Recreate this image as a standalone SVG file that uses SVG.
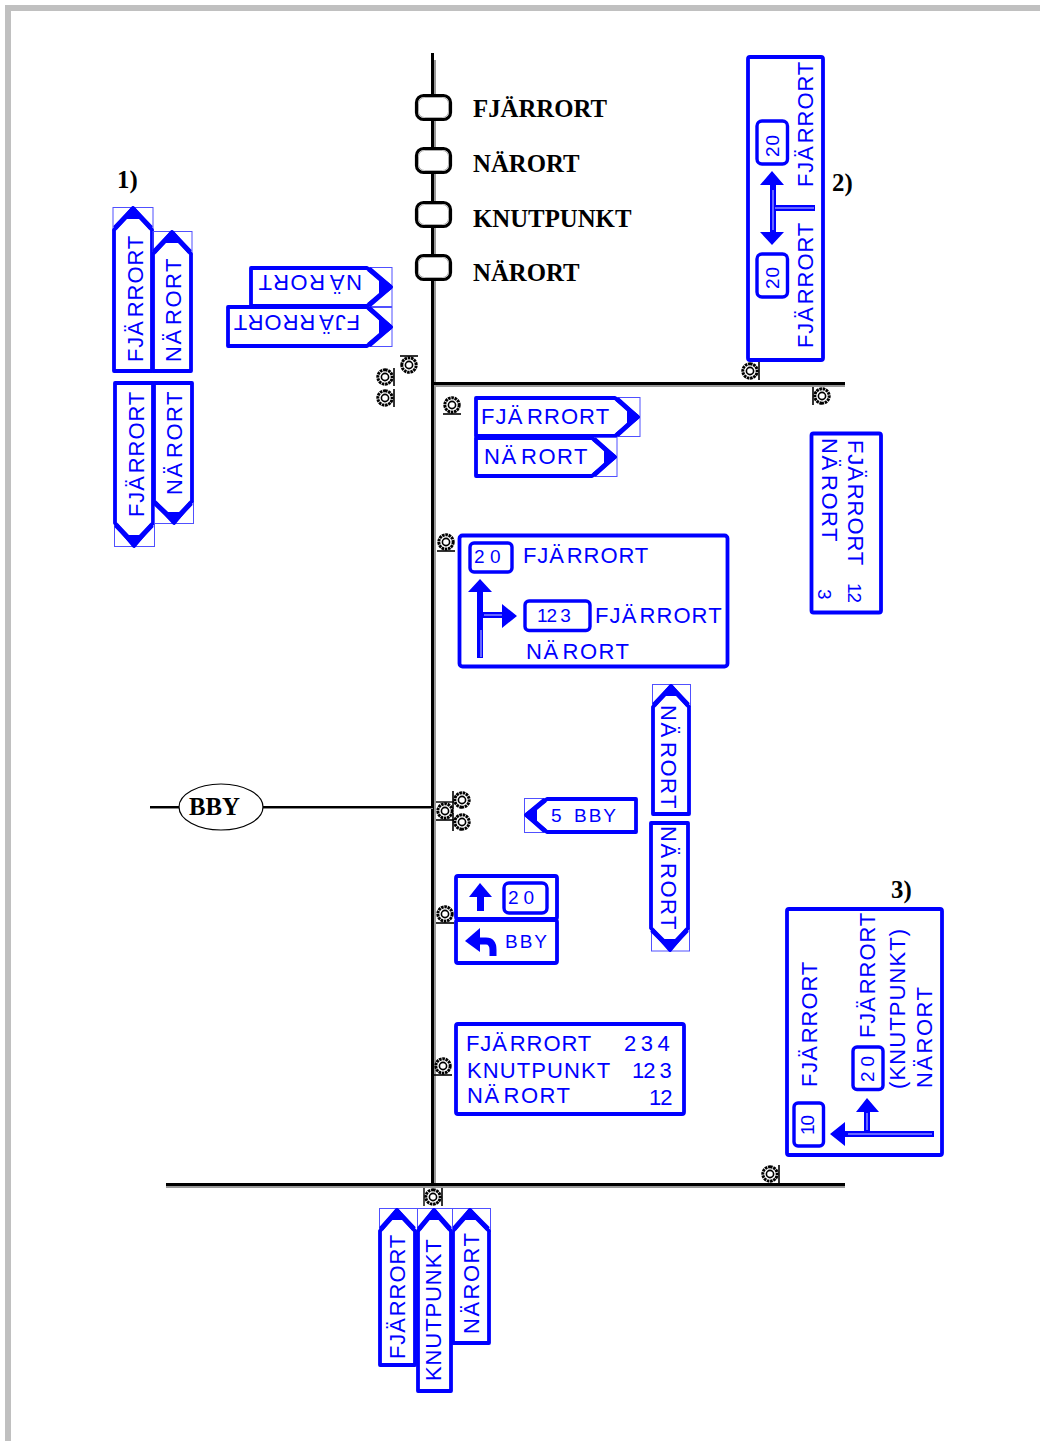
<svg xmlns="http://www.w3.org/2000/svg" width="1040" height="1441" viewBox="0 0 1040 1441">
<style>
.s{fill:#fff;stroke:#00f;stroke-width:3.8;stroke-linejoin:round}
.b{fill:#fff;stroke:#00f;stroke-width:3.4;stroke-linejoin:round}
.h{fill:none;stroke:#00f;stroke-width:5;stroke-linejoin:round}
.w{fill:#00f;stroke:none}
.a{fill:none;stroke:#00f;stroke-width:6}
.sl{fill:none;stroke:#cdd0ff;stroke-width:1}
.bx{fill:none;stroke:#5050ff;stroke-width:1}
text{font-family:"Liberation Sans",Arial,sans-serif;font-size:22px;fill:#00f;letter-spacing:1.5px}
.f{letter-spacing:.9px}
.g{letter-spacing:1.1px}
.n{font-size:19px;letter-spacing:1px}
.l{font-family:"Liberation Serif","Times New Roman",serif;font-weight:bold;font-size:24.8px;fill:#000;letter-spacing:0}
.r{fill:none;stroke:#000;stroke-width:3}
.r2{fill:none;stroke:#777;stroke-width:1.5}
.sn{fill:#fff;stroke:#000;stroke-width:3.2}
.sn2{fill:none;stroke:#999;stroke-width:.8}
</style>
<defs>
<g id="sig">
<circle r="7.200" fill="#fff" stroke="#000" stroke-width="3" stroke-dasharray="2.600 .7"/>
<circle r="3.600" fill="#fff" stroke="#000" stroke-width="1.600"/>
<path d="M-9 9H9" stroke="#000" stroke-width="1.600" fill="none"/>
</g>
</defs>
<rect id="page-frame" x="8" y="8" width="1040" height="1440" fill="#fff" stroke="#c0c0c0" stroke-width="6"/>
<g id="connectors">
<path class="r" d="M432.500 53V1185"/><path class="r2" d="M435 60V1185"/>
<path class="r" d="M433 383.500H845"/><path class="r2" d="M436 386H845"/>
<path class="r" d="M166 1184.500H845"/><path class="r2" d="M166 1187H845"/>
<path d="M150 807H433" fill="none" stroke="#000" stroke-width="2"/><path d="M150 808.500H433" fill="none" stroke="#888" stroke-width="1"/>
</g>
<g id="node-fjarrort"><rect class="sn" x="416.500" y="95.500" width="34" height="24" rx="7"/><rect class="sn2" x="418.500" y="97.500" width="30" height="20" rx="6"/><text class="l" x="473" y="117">FJÄRRORT</text></g>
<g id="node-narort-1"><rect class="sn" x="416.500" y="148.500" width="34" height="24" rx="7"/><rect class="sn2" x="418.500" y="150.500" width="30" height="20" rx="6"/><text class="l" x="473" y="172">NÄRORT</text></g>
<g id="node-knutpunkt"><rect class="sn" x="416.500" y="202.500" width="34" height="24" rx="7"/><rect class="sn2" x="418.500" y="204.500" width="30" height="20" rx="6"/><text class="l" x="473" y="227">KNUTPUNKT</text></g>
<g id="node-narort-2"><rect class="sn" x="416.500" y="255.500" width="34" height="24" rx="7"/><rect class="sn2" x="418.500" y="257.500" width="30" height="20" rx="6"/><text class="l" x="473" y="281">NÄRORT</text></g>
<g id="node-bby"><ellipse cx="221" cy="807" rx="42" ry="23" fill="#fff" stroke="#000" stroke-width="1.2"/><text class="l" x="189" y="815">BBY</text></g>
<g id="labels"><text class="l" x="117" y="188">1)</text><text class="l" x="832" y="191">2)</text><text class="l" x="891" y="898">3)</text></g>
<g id="signals">
<use href="#sig" transform="translate(385 377) rotate(-90)"/>
<use href="#sig" transform="translate(385 398) rotate(-90)"/>
<use href="#sig" transform="translate(409 365) rotate(180)"/>
<use href="#sig" transform="translate(452 405)"/>
<use href="#sig" transform="translate(446 542)"/>
<use href="#sig" transform="translate(750 371) rotate(-90)"/>
<use href="#sig" transform="translate(822 396) rotate(90)"/>
<use href="#sig" transform="translate(462 800) rotate(90)"/>
<use href="#sig" transform="translate(462 822) rotate(90)"/>
<use href="#sig" transform="translate(445 811)"/>
<path d="M436 802H454" stroke="#000" stroke-width="1.400" fill="none"/>
<use href="#sig" transform="translate(445 914)"/>
<use href="#sig" transform="translate(443 1066)"/>
<use href="#sig" transform="translate(770 1174) rotate(-90)"/>
<use href="#sig" transform="translate(433 1197) rotate(-90)"/>
<path d="M424 1188V1206" stroke="#000" stroke-width="1.400" fill="none"/>
</g>
<g id="sign-1a">
<rect class="bx" x="113" y="207.500" width="40" height="23"/>
<path class="s" d="M114 371V230L133 208L152 230V371Z"/><path class="h" d="M115 228L133 209L151 228"/><path class="w" d="M133 207L142 219H124Z"/>
<text class="f" transform="translate(143 362) rotate(-90)">FJÄ<tspan dx="3">RRORT</tspan></text>
</g>
<g id="sign-1b">
<rect class="bx" x="153" y="231.500" width="39" height="23"/>
<path class="s" d="M153 371V254L172 232L191 254V371Z"/><path class="h" d="M154 252L172 233L190 252"/><path class="w" d="M172 231L181 243H163Z"/>
<text transform="translate(181 362) rotate(-90)">NÄ<tspan dx="3.500">RORT</tspan></text>
</g>
<g id="sign-1c">
<rect class="bx" x="114.500" y="523.500" width="40" height="23"/>
<path class="s" d="M115 383V523L134 546L153 523V383Z"/><path class="h" d="M116 525L134 544L152 525"/><path class="w" d="M134 547L143 535H125Z"/>
<text class="f" transform="translate(143.500 517) rotate(-90)">FJÄ<tspan dx="2">RRORT</tspan></text>
</g>
<g id="sign-1d">
<rect class="bx" x="154.500" y="501.500" width="39" height="22"/>
<path class="s" d="M154 383V501L174 523L192 501V383Z"/><path class="h" d="M155 503L174 521L191 503"/><path class="w" d="M174 524L183 512H165Z"/>
<text transform="translate(182 495) rotate(-90)">NÄ<tspan dx="3.500">RORT</tspan></text>
</g>
<g id="sign-narort-rev">
<rect class="bx" x="367.500" y="267.500" width="24.500" height="39"/>
<path class="s" d="M251 268H367L391 287L367 306H251Z"/><path class="h" d="M369 269L390 287L369 305"/><path class="w" d="M392 287L379 296V278Z"/>
<text transform="translate(362 275) rotate(180)">NÄ<tspan dx="3.500">RORT</tspan></text>
</g>
<g id="sign-fjarrort-rev">
<rect class="bx" x="367.500" y="307.500" width="24.500" height="39"/>
<path class="s" d="M228 307H367L391 327L367 346H228Z"/><path class="h" d="M369 308L390 327L369 345"/><path class="w" d="M392 327L379 336V318Z"/>
<text class="f" transform="translate(360 315) rotate(180)">FJÄ<tspan dx="3">RRORT</tspan></text>
</g>
<g id="sign-2">
<rect class="s" x="748" y="57" width="75" height="303" rx="2"/>
<text class="f" transform="translate(813 187) rotate(-90)">FJÄ<tspan dx="2">RRORT</tspan></text>
<text class="f" transform="translate(813 348) rotate(-90)">FJÄ<tspan dx="2">RRORT</tspan></text>
<rect class="b" x="757" y="121" width="30.500" height="43" rx="5"/><text class="n" transform="translate(779 157) rotate(-90)">20</text>
<rect class="b" x="757" y="254" width="30.500" height="43" rx="5"/><text class="n" transform="translate(779 289) rotate(-90)">20</text>
<path class="a" d="M773 182V236M773 208H815"/>
<path class="sl" d="M775 208H814M773 190V230"/>
<path class="w" d="M772 171L784 185H760ZM772 245L784 232H760Z"/>
</g>
<g id="sign-right-fjarrort">
<rect class="bx" x="615.500" y="397.500" width="24.500" height="39"/>
<path class="s" d="M476 398H615L638 417L615 436H476Z"/><path class="h" d="M617 399L637 417L617 435"/><path class="w" d="M640 417L627 426V408Z"/>
<text class="g" x="481" y="424">FJÄ<tspan dx="3.500">RRORT</tspan></text>
</g>
<g id="sign-right-narort">
<rect class="bx" x="592.500" y="437.500" width="24.500" height="39"/>
<path class="s" d="M476 438H592L615 457L592 476H476Z"/><path class="h" d="M594 439L614 457L594 475"/><path class="w" d="M617 457L604 466V448Z"/>
<text x="484" y="464">NÄ<tspan dx="3.500">RORT</tspan></text>
</g>
<g id="sign-tall-right">
<rect class="s" x="811.500" y="433.500" width="69.500" height="179" rx="2"/>
<text class="f" transform="translate(848 440) rotate(90)">FJÄ<tspan dx="2">RRORT</tspan></text>
<text transform="translate(822 438) rotate(90)">NÄ<tspan dx="3.500">RORT</tspan></text>
<text class="n" style="letter-spacing:-1px" transform="translate(848 583) rotate(90)">12</text>
<text class="n" transform="translate(818 589) rotate(90)">3</text>
</g>
<g id="sign-big">
<rect class="s" x="459.500" y="535.500" width="268" height="131" rx="3"/>
<rect class="b" x="470" y="543" width="42" height="29" rx="4"/><text class="n" style="letter-spacing:5.500px" x="474" y="563">20</text>
<text class="f" x="523" y="563">FJÄ<tspan dx="2">RRORT</tspan></text>
<rect class="b" x="525" y="601" width="65" height="29.500" rx="4"/><text class="n" x="537" y="622"><tspan style="letter-spacing:-1px">12</tspan><tspan dx="4">3</tspan></text>
<text class="g" x="595" y="623">FJÄ<tspan dx="2">RRORT</tspan></text>
<text x="526" y="659">NÄ<tspan dx="3">RORT</tspan></text>
<path class="a" d="M480 590V658M480 615H505"/>
<path class="sl" d="M481 630V657M484 615H503"/>
<path class="w" d="M480 579L492 592H468ZM517 616L502 604V628Z"/>
</g>
<g id="sign-5bby">
<rect class="bx" x="524.500" y="798.500" width="23" height="34"/>
<path class="s" d="M636 799H547L526 815L547 832H636Z"/><path class="h" d="M545 800L527 815L545 831"/><path class="w" d="M524 815L537 807V824Z"/>
<text class="n" x="551" y="822">5</text><text class="n" style="letter-spacing:2px" x="574" y="822">BBY</text>
</g>
<g id="sign-narort-up">
<rect class="bx" x="652.500" y="684.500" width="38" height="22"/>
<path class="s" d="M653 814V707L671 686L689 707V814Z"/><path class="h" d="M654 705L671 687L688 705"/><path class="w" d="M671 684L680 696H662Z"/>
<text transform="translate(661 705) rotate(90)">NÄ<tspan dx="3.500">RORT</tspan></text>
</g>
<g id="sign-narort-down">
<rect class="bx" x="651.500" y="928.500" width="38" height="22.500"/>
<path class="s" d="M651 823V928L670 950L688 928V823Z"/><path class="h" d="M652 930L670 948L687 930"/><path class="w" d="M670 951L679 939H661Z"/>
<text transform="translate(661 826) rotate(90)">NÄ<tspan dx="3.500">RORT</tspan></text>
</g>
<g id="sign-20-bby">
<rect class="s" x="456" y="876" width="101" height="43" rx="2"/>
<rect class="s" x="456" y="920" width="101" height="43" rx="2"/>
<path class="w" d="M480 883L492 897H469Z"/><path class="a" style="stroke-width:7" d="M480.500 895V911"/>
<rect class="b" x="504" y="883" width="43" height="30" rx="5"/><text class="n" style="letter-spacing:5px" x="508" y="904">20</text>
<text class="n" style="letter-spacing:2px" x="505" y="948">BBY</text>
<path class="w" d="M465 941L480 928V952Z"/><path class="a" style="stroke-width:7" d="M478 941H486Q493 941 493 950V956"/>
</g>
<g id="sign-list">
<rect class="s" x="456" y="1024" width="228" height="90" rx="2"/>
<text class="f" x="466" y="1051">FJÄ<tspan dx="2">RRORT</tspan></text><text x="624" y="1051" style="letter-spacing:4.500px">234</text>
<text x="467" y="1078" style="letter-spacing:1.100px">KNUTPUNKT</text><text x="632" y="1078"><tspan style="letter-spacing:-1px">12</tspan><tspan dx="5">3</tspan></text>
<text x="467" y="1103">NÄ<tspan dx="3">RORT</tspan></text><text x="649" y="1105" style="letter-spacing:-1px">12</text>
</g>
<g id="sign-3">
<rect class="s" x="787" y="909" width="155" height="246" rx="2"/>
<text class="f" transform="translate(817 1087) rotate(-90)">FJÄ<tspan dx="2">RRORT</tspan></text>
<rect class="b" x="794" y="1103" width="29.500" height="43" rx="4"/><text class="n" style="letter-spacing:-1px" transform="translate(814 1135) rotate(-90)">10</text>
<rect class="b" x="853" y="1047" width="30" height="42.500" rx="4"/><text class="n" style="letter-spacing:5px" transform="translate(874 1082) rotate(-90)">20</text>
<text class="f" transform="translate(875 1038) rotate(-90)">FJÄ<tspan dx="2">RRORT</tspan></text>
<text class="g" transform="translate(905 1089) rotate(-90)">(KNUTPUNKT)</text>
<text transform="translate(932 1088) rotate(-90)">NÄ<tspan dx="1">RORT</tspan></text>
<path class="a" d="M934 1134H842M867 1134V1108"/>
<path class="sl" d="M932 1134H848M867 1130V1113"/>
<path class="w" d="M830 1134L845 1122V1146ZM867 1098L879 1112H856Z"/>
</g>
<g id="sign-bottom-fjarrort">
<rect class="bx" x="379.500" y="1208.500" width="38" height="23"/>
<path class="s" d="M380 1365V1231L397 1210L415 1231V1365Z"/><path class="h" d="M381 1229L397 1211L414 1229"/><path class="w" d="M397 1208L406 1220H388Z"/>
<text class="f" transform="translate(405 1359) rotate(-90)">FJÄ<tspan dx="1">RRORT</tspan></text>
</g>
<g id="sign-bottom-narort">
<rect class="bx" x="452.500" y="1208.500" width="38" height="23"/>
<path class="s" d="M453 1343V1231L470 1210L489 1231V1343Z"/><path class="h" d="M454 1229L470 1211L488 1229"/><path class="w" d="M470 1208L479 1220H461Z"/>
<text transform="translate(479 1334) rotate(-90)">NÄ<tspan dx="1">RORT</tspan></text>
</g>
<g id="sign-bottom-knutpunkt">
<rect class="bx" x="417.500" y="1208.500" width="35" height="23"/>
<path class="s" d="M418 1391V1231L434 1210L451 1231V1391Z"/><path class="h" d="M419 1229L434 1211L450 1229"/><path class="w" d="M434 1208L443 1220H425Z"/>
<text transform="translate(441 1381) rotate(-90)" style="letter-spacing:.9px">KNUTPUNKT</text>
</g>
</svg>
